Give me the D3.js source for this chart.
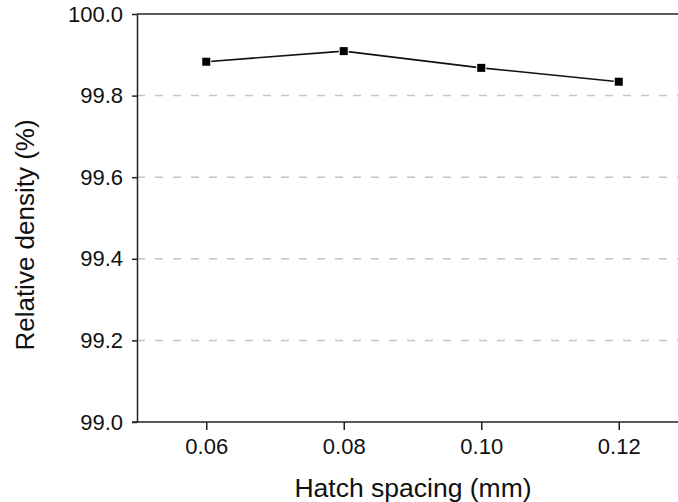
<!DOCTYPE html>
<html><head><meta charset="utf-8">
<script src="https://cdn.jsdelivr.net/npm/d3@7"></script>
<style>body{margin:0;background:#fff}svg{display:block}text{font-family:"Liberation Sans",Arial,sans-serif}</style>
</head><body><svg id="c" width="678" height="502"></svg>
<script>
const hatch = [0.06, 0.08, 0.10, 0.12];
const density = [99.883, 99.909, 99.868, 99.834];
const xTicks = [0.06, 0.08, 0.10, 0.12];
const yTicks = [99.0, 99.2, 99.4, 99.6, 99.8, 100.0];
const gridTicks = [99.2, 99.4, 99.6, 99.8];

const svg = d3.select("#c");
const L = 137, T = 14, B = 422, W = 678;
const x = d3.scaleLinear().domain([0.05, 0.13]).range([L + 0.5, L + 0.5 + 137.5 * 4]);
const y = d3.scaleLinear().domain([99.0, 100.0]).range([B, T]);

// gridlines
svg.append("g").selectAll("line").data(gridTicks).join("line")
  .attr("x1", L).attr("x2", W).attr("y1", d => y(d)).attr("y2", d => y(d))
  .attr("stroke", "#c4c4c4").attr("stroke-width", 1.5).attr("stroke-dasharray", "8,10");

// top frame
svg.append("line").attr("x1", L).attr("x2", W).attr("y1", T).attr("y2", T)
  .attr("stroke", "#222").attr("stroke-width", 1.5);

const xAxis = svg.append("g").attr("transform", `translate(0,${B})`)
  .call(d3.axisBottom(x).tickValues(xTicks).tickFormat(d3.format(".2f")).tickSize(8).tickSizeOuter(0).tickPadding(8));
const yAxis = svg.append("g").attr("transform", `translate(${L},0)`)
  .call(d3.axisLeft(y).tickValues(yTicks).tickFormat(d3.format(".1f")).tickSize(5).tickSizeOuter(0).tickPadding(9));
[xAxis, yAxis].forEach(a => {
  a.selectAll("path.domain").attr("stroke", "#222").attr("stroke-width", 1.5);
  a.selectAll(".tick line").attr("stroke", "#222").attr("stroke-width", 1.5);
  a.selectAll("text").attr("fill", "#111").style("font-size", "22px").style("font-family", '"Liberation Sans",Arial,sans-serif');
});
xAxis.select("path.domain").attr("d", `M${L - 5},0H${W}`);

// line + markers
const line = d3.line().x((d, i) => x(hatch[i])).y(d => y(d));
svg.append("path").datum(density).attr("d", line)
  .attr("fill", "none").attr("stroke", "#111").attr("stroke-width", 1.6);
svg.append("g").selectAll("rect").data(density).join("rect")
  .attr("x", (d, i) => x(hatch[i]) - 4).attr("y", d => y(d) - 4)
  .attr("width", 8).attr("height", 8).attr("fill", "#000")
  .attr("stroke", "#fff").attr("stroke-width", 2).attr("paint-order", "stroke");

// titles
svg.append("text").attr("x", 413).attr("y", 497).attr("text-anchor", "middle")
  .style("font-size", "26.5px").attr("fill", "#111").text("Hatch spacing (mm)");
svg.append("text").attr("transform", "translate(34,235) rotate(-90)").attr("text-anchor", "middle")
  .style("font-size", "26px").attr("fill", "#111").text("Relative density (%)");
</script></body></html>
